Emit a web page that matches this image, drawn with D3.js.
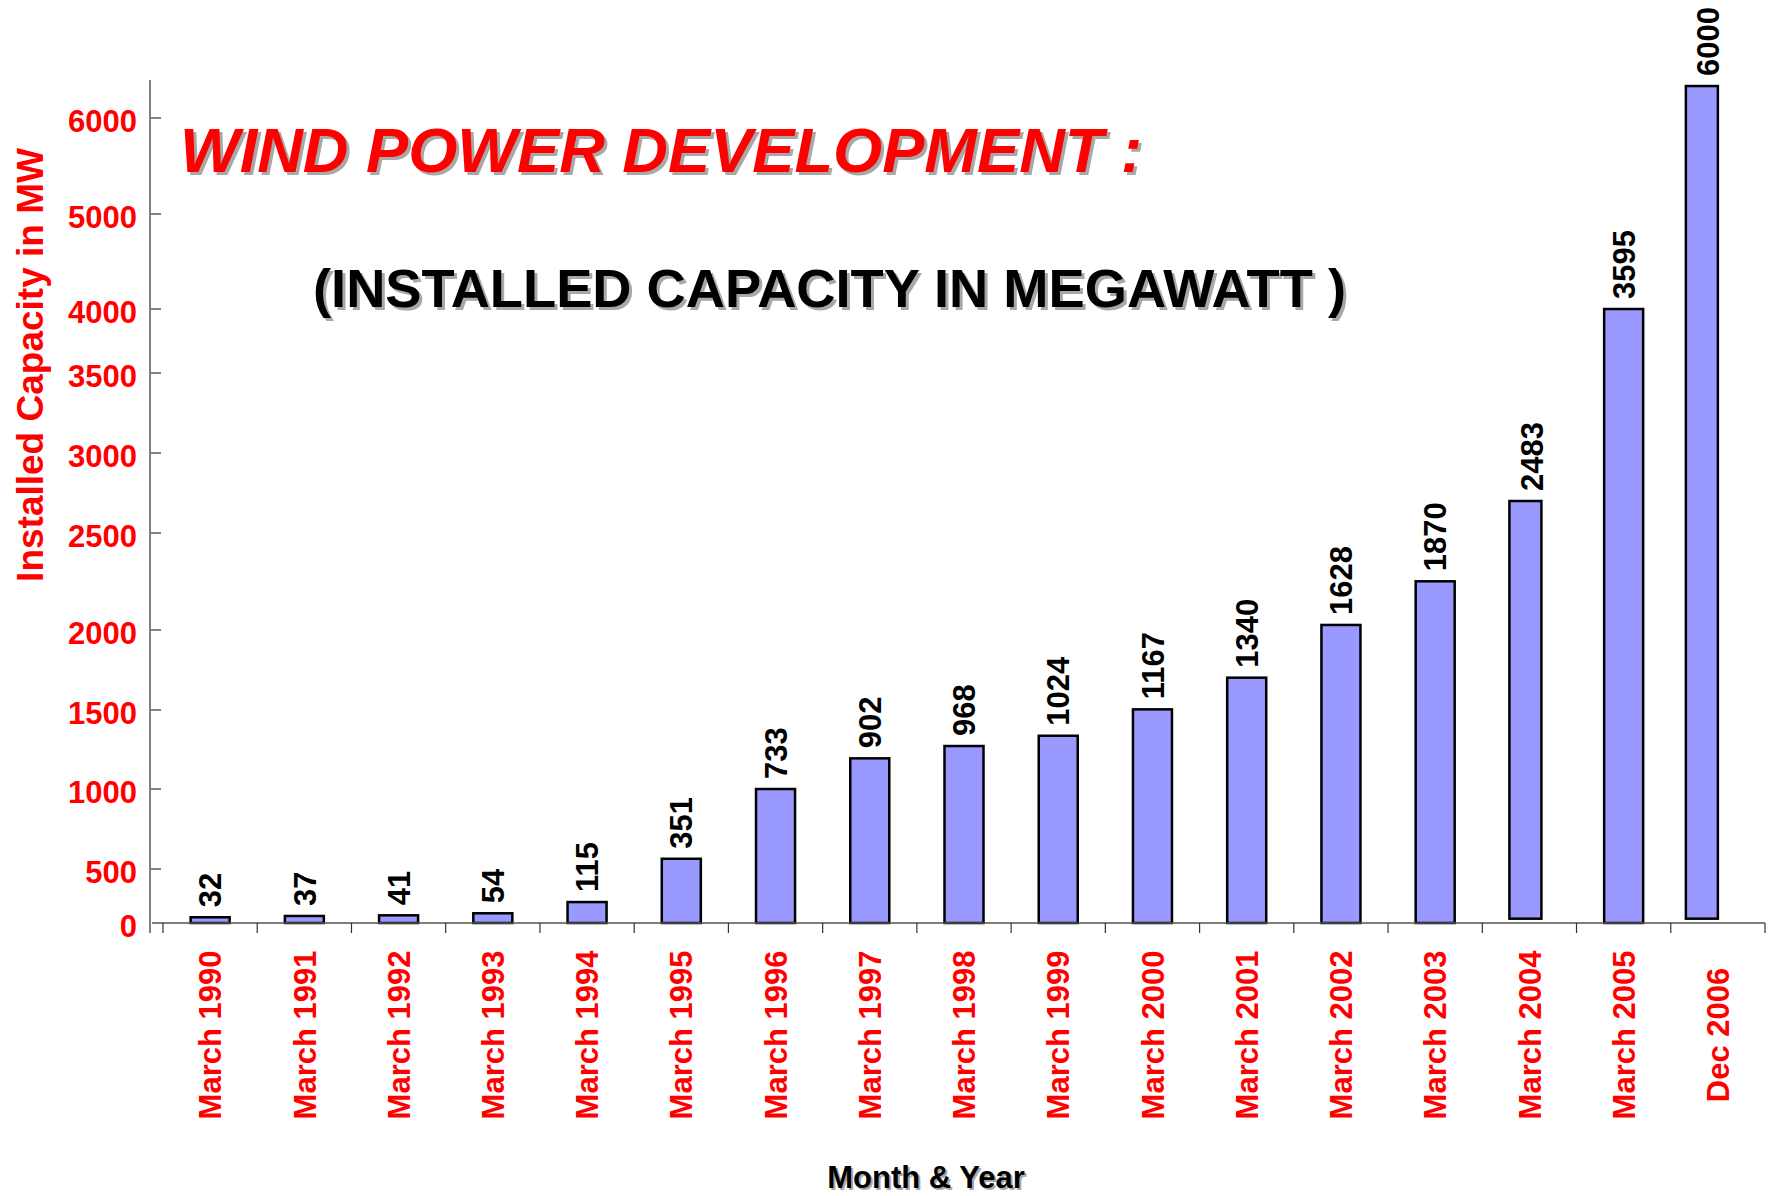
<!DOCTYPE html>
<html>
<head>
<meta charset="utf-8">
<script src="https://d3js.org/d3.v7.min.js"></script>
<style>
	body { margin: 0; background: white; }
	svg { display: block; font-family: "Liberation Sans", Arial, sans-serif; }
</style>
</head>
<body>
<svg id="chart"></svg>
<script>
// data
const categories = ["March 1990", "March 1991", "March 1992", "March 1993", "March 1994",
	"March 1995", "March 1996", "March 1997", "March 1998", "March 1999", "March 2000",
	"March 2001", "March 2002", "March 2003", "March 2004", "March 2005", "Dec 2006"];
// numbers printed above the bars
const capacity = [32, 37, 41, 54, 115, 351, 733, 902, 968, 1024, 1167, 1340, 1628, 1870, 2483, 3595, 6000];
// where the bar tops sit against the y axis as drawn
const barTop = [53, 65, 71, 90, 194, 564, 1000, 1194, 1272, 1337, 1504, 1702, 2026, 2251, 2700, 4000, 6333];
// two bars float a little above the baseline in the original
const barBase = [0, 0, 0, 0, 0, 0, 0, 0, 0, 0, 0, 0, 0, 0, 40, 0, 40];
const tickValues = [0, 500, 1000, 1500, 2000, 2500, 3000, 3500, 4000, 5000, 6000];

const width = 1771, height = 1196;
const svg = d3.select("#chart").attr("width", width).attr("height", height);

// the axis is not evenly spaced, so the scale runs through every tick
const y = d3.scaleLinear()
	.domain(tickValues)
	.range([923, 869, 789, 710, 630, 533, 453, 373, 309, 214, 118]);

const x = d3.scaleBand()
	.domain(categories)
	.range([163, 1765])
	.paddingInner(0.586)
	.paddingOuter(0.293);

// the two floating bars were redrawn by hand: a bit narrower and off-centre
const nudge = { "March 2004": { dx: -4, w: 32, ldx: 2 }, "Dec 2006": { dx: -16, w: 32, ldx: -10 } };
const barW = d => nudge[d] ? nudge[d].w : x.bandwidth();
const barCx = d => x(d) + x.bandwidth() / 2 + (nudge[d] ? nudge[d].dx : 0);
const labCx = d => x(d) + x.bandwidth() / 2 + (nudge[d] ? nudge[d].ldx : 0);

const red = "#ff0000";
const shadow = "#a8a8a8";

// titles with drop shadow
function shadowText(txt, tx, ty, size, fill, italic, len) {
	[[3, 3, shadow], [0, 0, fill]].forEach(function(s) {
		svg.append("text")
			.attr("x", tx + s[0])
			.attr("y", ty + s[1])
			.attr("font-size", size)
			.attr("font-weight", "bold")
			.attr("font-style", italic ? "italic" : "normal")
			.attr("fill", s[2])
			.attr("textLength", len)
			.attr("lengthAdjust", "spacingAndGlyphs")
			.text(txt);
	});
}
shadowText("WIND POWER DEVELOPMENT :", 180, 172, 63, red, true, 962);
shadowText("(INSTALLED CAPACITY IN MEGAWATT )", 313, 307, 54, "black", false, 1033);

// bars
svg.selectAll(".bar")
	.data(categories)
	.enter().append("rect")
	.attr("class", "bar")
	.attr("x", d => barCx(d) - barW(d) / 2)
	.attr("width", barW)
	.attr("y", (d, i) => y(barTop[i]))
	.attr("height", (d, i) => y(barBase[i]) - y(barTop[i]))
	.attr("fill", "#9999ff")
	.attr("stroke", "black")
	.attr("stroke-width", 2.5);

// value labels
svg.selectAll(".val")
	.data(categories)
	.enter().append("text")
	.attr("class", "val")
	.attr("transform", (d, i) => `translate(${labCx(d)},${y(barTop[i]) - 10}) rotate(-90)`)
	.attr("dy", "0.36em")
	.attr("font-size", 31)
	.attr("font-weight", "bold")
	.attr("fill", "black")
	.text((d, i) => capacity[i]);

// y axis
svg.append("line")
	.attr("x1", 150).attr("x2", 150)
	.attr("y1", 80).attr("y2", 933)
	.attr("stroke", "#808080").attr("stroke-width", 2);
svg.selectAll(".ytick")
	.data(tickValues.slice(1))
	.enter().append("line")
	.attr("class", "ytick")
	.attr("x1", 151).attr("x2", 161)
	.attr("y1", d => y(d)).attr("y2", d => y(d))
	.attr("stroke", "#333").attr("stroke-width", 1.2);
svg.selectAll(".ylab")
	.data(tickValues)
	.enter().append("text")
	.attr("class", "ylab")
	.attr("x", 137)
	.attr("y", d => y(d) + 3)
	.attr("dy", "0.36em")
	.attr("text-anchor", "end")
	.attr("font-size", 31)
	.attr("font-weight", "bold")
	.attr("fill", red)
	.text(d => d);

svg.append("text")
	.attr("transform", "translate(43,365) rotate(-90)")
	.attr("text-anchor", "middle")
	.attr("font-size", 37)
	.attr("font-weight", "bold")
	.attr("fill", red)
	.text("Installed Capacity in MW");

// x axis
const step = x.step();
const x0 = x.range()[0];
svg.append("line")
	.attr("x1", 152).attr("x2", x.range()[1])
	.attr("y1", y(0)).attr("y2", y(0))
	.attr("stroke", "#555").attr("stroke-width", 1.5);
svg.selectAll(".xtick")
	.data(d3.range(categories.length + 1))
	.enter().append("line")
	.attr("class", "xtick")
	.attr("x1", i => x0 + i * step).attr("x2", i => x0 + i * step)
	.attr("y1", y(0)).attr("y2", y(0) + 10)
	.attr("stroke", "#333").attr("stroke-width", 1.2);

svg.selectAll(".xlab")
	.data(categories)
	.enter().append("text")
	.attr("class", "xlab")
	.attr("transform", d => `translate(${x(d) + x.bandwidth() / 2},1035) rotate(-90)`)
	.attr("dy", "0.36em")
	.attr("text-anchor", "middle")
	.attr("font-size", 31)
	.attr("font-weight", "bold")
	.attr("fill", red)
	.text(d => d);

// x axis title with shadow
[[2, 2, shadow], [0, 0, "black"]].forEach(function(s) {
	svg.append("text")
		.attr("x", 926 + s[0])
		.attr("y", 1188 + s[1])
		.attr("text-anchor", "middle")
		.attr("font-size", 31)
		.attr("font-weight", "bold")
		.attr("fill", s[2])
		.text("Month & Year");
});
</script>
</body>
</html>
